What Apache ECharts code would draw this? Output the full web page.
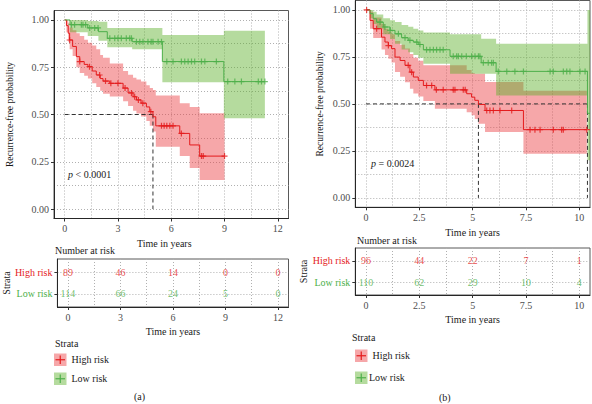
<!DOCTYPE html>
<html><head><meta charset="utf-8">
<script src="https://cdn.jsdelivr.net/npm/echarts@6/dist/echarts.min.js"></script>
<style>html,body{margin:0;padding:0;background:#fff}#c{width:592px;height:404px}</style>
</head><body><div id="c"></div>
<script>
// ---------- Panel (a) ----------
const aHighTime  = [0, 0.1, 0.2, 0.28, 0.45, 0.66, 0.85, 1.1, 1.31, 1.55, 1.78, 2.0, 2.16, 2.54, 3.29, 3.57, 3.85, 4.04, 4.3, 4.6, 4.79, 4.97, 5.13, 6.48, 7.04, 7.6];
const aHighSurv  = [1, 0.97, 0.93, 0.894, 0.86, 0.806, 0.78, 0.765, 0.753, 0.73, 0.709, 0.69, 0.677, 0.665, 0.64, 0.614, 0.594, 0.577, 0.56, 0.54, 0.515, 0.488, 0.44, 0.40, 0.339, 0.28];
const aHighLower = [1, 0.935, 0.885, 0.845, 0.81, 0.75, 0.72, 0.705, 0.69, 0.665, 0.645, 0.625, 0.61, 0.595, 0.57, 0.545, 0.52, 0.505, 0.49, 0.465, 0.44, 0.41, 0.33, 0.28, 0.217, 0.153];
const aHighUpper = [1, 1.0, 0.985, 0.96, 0.945, 0.93, 0.915, 0.895, 0.88, 0.865, 0.845, 0.815, 0.8, 0.77, 0.73, 0.71, 0.695, 0.685, 0.675, 0.655, 0.64, 0.63, 0.6, 0.56, 0.54, 0.507];
const aHighEnd = 9.0;
const aHighCensor = [0.28, 0.85, 1.4, 1.97, 2.3, 2.6, 3.0, 3.4, 3.76, 3.94, 4.15, 4.4, 4.85, 5.45, 5.6, 5.75, 5.92, 6.1, 6.57, 7.7, 7.8, 9.0];

const aLowTime  = [0, 0.3, 1.3, 1.9, 2.4, 3.8, 5.5, 8.96];
const aLowSurv  = [1, 0.975, 0.958, 0.938, 0.903, 0.885, 0.78, 0.674];
const aLowLower = [1, 0.935, 0.915, 0.89, 0.855, 0.845, 0.67, 0.48];
const aLowUpper = [1, 1.0, 0.995, 0.99, 0.958, 0.958, 0.92, 0.943];
const aLowEnd = 11.27;
const aLowCensor = [0.38, 0.56, 0.94, 1.03, 1.18, 1.41, 1.69, 1.88, 2.54, 2.82, 3.0, 3.19, 3.47, 3.66, 3.76, 4.04, 4.23, 4.41, 4.69, 4.87, 4.97, 5.26, 5.45, 5.75, 6.1, 6.57, 6.76, 6.95, 7.14, 7.32, 7.7, 7.89, 8.54, 9.18, 9.58, 9.95, 10.9, 11.08, 11.27];

const aMedian = [4.97];
const aXTicks = [0, 3, 6, 9, 12];
const aXGrid  = [0, 1.5, 3, 4.5, 6, 7.5, 9, 10.5, 12];
const aRiskTime = [0, 3, 6, 9, 12];
const aRiskHigh = [89, 46, 14, 0, 0];
const aRiskLow  = [114, 66, 24, 5, 0];
const aPText = '{i|p} < 0.0001';

// ---------- Panel (b) ----------
const bHighTime  = [0, 0.19, 0.34, 0.73, 0.89, 1.05, 1.2, 1.36, 1.6, 1.83, 2.06, 2.22, 2.45, 2.69, 3.23, 4.72, 4.95, 5.1, 5.27, 5.58, 7.38];
const bHighSurv  = [1, 0.944, 0.9, 0.855, 0.829, 0.81, 0.794, 0.749, 0.731, 0.705, 0.669, 0.643, 0.625, 0.598, 0.575, 0.554, 0.536, 0.519, 0.497, 0.465, 0.363];
const bHighLower = [1, 0.9, 0.85, 0.79, 0.76, 0.74, 0.72, 0.67, 0.645, 0.615, 0.58, 0.555, 0.54, 0.515, 0.474, 0.455, 0.439, 0.42, 0.395, 0.35, 0.235];
const bHighUpper = [1, 0.99, 0.96, 0.925, 0.9, 0.885, 0.87, 0.835, 0.815, 0.795, 0.765, 0.745, 0.73, 0.705, 0.705, 0.68, 0.665, 0.66, 0.66, 0.616, 0.57];
const bHighEnd = 10.35;
const bHighCensor = [0.03, 0.5, 1.05, 1.98, 2.14, 2.84, 3.08, 3.3, 3.62, 4.09, 4.17, 4.56, 4.65, 5.66, 5.81, 5.97, 6.28, 6.83, 7.69, 7.92, 8.16, 8.78, 9.17, 9.25, 10.35];

const bLowTime  = [0, 0.19, 0.34, 0.5, 0.81, 1.13, 1.36, 1.67, 1.98, 2.22, 2.45, 2.69, 3.94, 5.4, 6.1, 10.38];
const bLowSurv  = [1, 0.98, 0.953, 0.935, 0.909, 0.891, 0.873, 0.852, 0.838, 0.829, 0.816, 0.788, 0.753, 0.719, 0.673, 0.45];
const bLowLower = [1, 0.955, 0.925, 0.9, 0.87, 0.845, 0.82, 0.79, 0.775, 0.76, 0.745, 0.714, 0.66, 0.66, 0.545, 0.2];
const bLowUpper = [1, 1.0, 0.99, 0.975, 0.955, 0.945, 0.935, 0.92, 0.91, 0.9, 0.89, 0.88, 0.87, 0.847, 0.82, 1.0];
const bLowEnd = 10.5;
const bLowCensor = [0.66, 0.89, 1.13, 1.52, 1.83, 2.06, 2.38, 2.53, 2.84, 3.0, 3.16, 3.31, 3.47, 3.62, 4.09, 4.25, 4.33, 4.49, 4.7, 4.95, 5.11, 5.27, 5.34, 5.5, 5.73, 5.89, 5.97, 6.2, 6.6, 6.98, 7.38, 8.63, 8.78, 9.25, 9.41, 9.56, 10.03, 10.27];

const bMedian = [5.27, 10.38];
const bXTicks = [0, 2.5, 5, 7.5, 10];
const bXGrid  = [0, 1.25, 2.5, 3.75, 5, 6.25, 7.5, 8.75, 10];
const bRiskTime = [0, 2.5, 5, 7.5, 10];
const bRiskHigh = [96, 44, 22, 7, 1];
const bRiskLow  = [110, 62, 29, 10, 4];
const bPText = '{i|p} = 0.0024';

// ---------- shared ----------
const yTicks = [0, 0.25, 0.5, 0.75, 1];
const yGrid  = [0, 0.125, 0.25, 0.375, 0.5, 0.625, 0.75, 0.875, 1];
const strataNames = ['High risk', 'Low risk'];

const FONT = '"Liberation Serif","DejaVu Serif",serif';
const RED = '#E41A1C', GREEN = '#4DAF4A';
const RED_BAND = 'rgba(235,60,65,0.45)', GREEN_BAND = 'rgba(90,175,40,0.45)';
const TXT = '#1a1a1a', TICK = '#4d4d4d';
const PLUS = 'path://M4,0H6V4H10V6H6V10H4V6H0V4H4Z';

function stepData(times, vals, end) {
  const d = times.map((t, i) => [t, vals[i]]);
  d.push([end, vals[vals.length - 1]]);
  return d;
}
function survAt(times, surv, t) {
  let v = surv[0];
  for (let i = 0; i < times.length; i++) if (times[i] <= t) v = surv[i];
  return v;
}

function xAxesFor(grid, min, max, major, minor, name, nameGap, namePad) {
  return [{
    type: 'value', gridIndex: grid, min: min, max: max, position: 'bottom',
    name: name, nameLocation: 'middle', nameGap: nameGap,
    nameTextStyle: {fontFamily: FONT, fontSize: 10, color: TXT, padding: namePad || 0},
    axisLine: {show: true, onZero: false, lineStyle: {color: '#262626', width: 1}},
    axisTick: {show: true, customValues: major, length: 3, lineStyle: {color: '#333'}},
    axisLabel: {customValues: major, formatter: v => String(v), color: TICK, fontFamily: FONT, fontSize: 10, margin: 5},
    splitLine: {show: false}
  }, {
    type: 'value', gridIndex: grid, min: min, max: max, position: 'top',
    axisLine: {show: false}, axisTick: {show: false, customValues: minor},
    axisLabel: {show: false, customValues: minor},
    splitLine: {show: true, lineStyle: {type: [1, 2], color: '#b0b0b0', width: 1}}
  }];
}
function kmYAxes(grid, nameGap) {
  return [{
    type: 'value', gridIndex: grid, min: -0.05, max: 1.05, position: 'left',
    name: 'Recurrence-free probability', nameLocation: 'middle', nameGap: nameGap,
    nameTextStyle: {fontFamily: FONT, fontSize: 9.5, color: TXT},
    axisLine: {show: true, onZero: false, lineStyle: {color: '#262626', width: 1}},
    axisTick: {show: true, customValues: yTicks, length: 3, lineStyle: {color: '#333'}},
    axisLabel: {customValues: yTicks, formatter: v => v.toFixed(2), color: TICK, fontFamily: FONT, fontSize: 10, margin: 5},
    splitLine: {show: false}
  }, {
    type: 'value', gridIndex: grid, min: -0.05, max: 1.05, position: 'right',
    axisLine: {show: false}, axisTick: {show: false, customValues: yGrid},
    axisLabel: {show: false, customValues: yGrid},
    splitLine: {show: true, lineStyle: {type: [1, 2], color: '#b0b0b0', width: 1}}
  }];
}
function riskYAxis(grid, nameGap) {
  return {
    type: 'value', gridIndex: grid, min: 0.4, max: 2.6, position: 'left',
    name: 'Strata', nameLocation: 'middle', nameGap: nameGap,
    nameTextStyle: {fontFamily: FONT, fontSize: 10, color: TXT},
    axisLine: {show: true, onZero: false, lineStyle: {color: '#262626', width: 1}},
    axisTick: {show: true, customValues: [1, 2], length: 3, lineStyle: {color: '#333'}},
    axisLabel: {
      customValues: [1, 2], margin: 5,
      formatter: v => v === 2 ? '{h|' + strataNames[0] + '}' : '{l|' + strataNames[1] + '}',
      rich: {h: {color: RED, fontFamily: FONT, fontSize: 10}, l: {color: GREEN, fontFamily: FONT, fontSize: 10}}
    },
    splitLine: {show: true, lineStyle: {type: [1, 2], color: '#b0b0b0', width: 1}}
  };
}

// confidence band: one stepped polygon through the axis scales
function bandSeries(times, lower, upper, end, color, xi, yi) {
  const rows = times.map((t, i) => [t, lower[i], upper[i]]);
  return {
    type: 'custom', xAxisIndex: xi, yAxisIndex: yi, z: 1, silent: true,
    data: rows, encode: {x: 0, y: [1, 2]},
    renderItem: (params, api) => {
      if (params.dataIndex !== 0) return null;
      const n = rows.length, pts = [];
      const nextT = i => (i + 1 < n ? rows[i + 1][0] : end);
      for (let i = 0; i < n; i++) {
        pts.push(api.coord([rows[i][0], rows[i][2]]));
        pts.push(api.coord([nextT(i), rows[i][2]]));
      }
      for (let i = n - 1; i >= 0; i--) {
        pts.push(api.coord([nextT(i), rows[i][1]]));
        pts.push(api.coord([rows[i][0], rows[i][1]]));
      }
      return {type: 'polygon', shape: {points: pts}, style: {fill: color}};
    }
  };
}
function curveSeries(times, surv, end, cens, color, xi, yi) {
  return [
    {type: 'line', xAxisIndex: xi, yAxisIndex: yi, step: 'end', z: 3, silent: true,
     data: stepData(times, surv, end), symbol: 'none', lineStyle: {color: color, width: 1}},
    {type: 'scatter', xAxisIndex: xi, yAxisIndex: yi, z: 4, silent: true,
     data: cens.map(t => [t, survAt(times, surv, t)]), symbol: PLUS, symbolSize: 6,
     itemStyle: {color: color}}
  ];
}
function medianSeries(medians, xi, yi) {
  const ls = {color: '#333', width: 1, type: [4, 3]};
  const out = [{type: 'line', xAxisIndex: xi, yAxisIndex: yi, z: 3, silent: true, symbol: 'none',
    data: [[0, 0.5], [Math.max.apply(null, medians), 0.5]], lineStyle: ls}];
  medians.forEach(m => out.push({type: 'line', xAxisIndex: xi, yAxisIndex: yi, z: 3, silent: true,
    symbol: 'none', data: [[m, 0.5], [m, 0]], lineStyle: ls}));
  return out;
}
function riskSeries(times, counts, row, color, xi, yi) {
  return {type: 'scatter', xAxisIndex: xi, yAxisIndex: yi, silent: true, symbolSize: 0,
    data: times.map((t, i) => [t, row, counts[i]]),
    label: {show: true, position: 'inside', formatter: p => String(p.value[2]), color: color, fontFamily: FONT, fontSize: 10}};
}

const gridStyle = {show: true, borderColor: '#595959', borderWidth: 1, containLabel: false};
const titleStyle = {fontFamily: FONT, fontSize: 10, fontWeight: 'normal', color: TXT};
const pStyle = Object.assign({rich: {i: {fontStyle: 'italic', fontFamily: FONT, fontSize: 10, color: TXT}}}, titleStyle);
const option = {
  animation: false,
  backgroundColor: '#fff',
  grid: [
    Object.assign({left: 54, top: 10.5, width: 234.5, height: 208}, gridStyle),
    Object.assign({left: 355.3, top: 0.5, width: 234.7, height: 206.8}, gridStyle),
    Object.assign({left: 54, top: 259, width: 234.5, height: 48}, gridStyle),
    Object.assign({left: 355.3, top: 248, width: 234.7, height: 47}, gridStyle)
  ],
  xAxis: [].concat(
    xAxesFor(0, -0.6, 12.6, aXTicks, aXGrid, 'Time in years', 13, [0, 14, 0, 0]),
    xAxesFor(1, -0.5, 10.5, bXTicks, bXGrid, 'Time in years', 20),
    xAxesFor(2, -0.6, 12.6, aXTicks, aXGrid, 'Time in years', 19),
    xAxesFor(3, -0.5, 10.5, bXTicks, bXGrid, 'Time in years', 19)
  ),
  yAxis: [].concat(
    kmYAxes(0, 39),
    kmYAxes(1, 30),
    [riskYAxis(2, 44), riskYAxis(3, 42)]
  ),
  title: [
    {text: 'Number at risk', left: 55, top: 245, padding: 0, textStyle: titleStyle},
    {text: 'Number at risk', left: 357, top: 235, padding: 0, textStyle: titleStyle},
    {text: aPText, left: 68, top: 169, padding: 0, textStyle: pStyle},
    {text: bPText, left: 371, top: 158, padding: 0, textStyle: pStyle},
    {text: 'Strata', left: 55, top: 338, padding: 0, textStyle: titleStyle},
    {text: 'Strata', left: 352, top: 332, padding: 0, textStyle: titleStyle},
    {text: '(a)', left: 134, top: 391, padding: 0, textStyle: titleStyle},
    {text: '(b)', left: 439, top: 392, padding: 0, textStyle: titleStyle}
  ],
  graphic: [],
  series: [].concat(
    [bandSeries(aHighTime, aHighLower, aHighUpper, aHighEnd, RED_BAND, 0, 0),
     bandSeries(aLowTime, aLowLower, aLowUpper, aLowEnd, GREEN_BAND, 0, 0),
     bandSeries(bHighTime, bHighLower, bHighUpper, bHighEnd, RED_BAND, 2, 2),
     bandSeries(bLowTime, bLowLower, bLowUpper, bLowEnd, GREEN_BAND, 2, 2)],
    medianSeries(aMedian, 0, 0),
    medianSeries(bMedian, 2, 2),
    curveSeries(aHighTime, aHighSurv, aHighEnd, aHighCensor, RED, 0, 0),
    curveSeries(aLowTime, aLowSurv, aLowEnd, aLowCensor, GREEN, 0, 0),
    curveSeries(bHighTime, bHighSurv, bHighEnd, bHighCensor, RED, 2, 2),
    curveSeries(bLowTime, bLowSurv, bLowEnd, bLowCensor, GREEN, 2, 2),
    [riskSeries(aRiskTime, aRiskHigh, 2, RED, 4, 4), riskSeries(aRiskTime, aRiskLow, 1, GREEN, 4, 4),
     riskSeries(bRiskTime, bRiskHigh, 2, RED, 6, 5), riskSeries(bRiskTime, bRiskLow, 1, GREEN, 6, 5)]
  )
};

// legend keys (swatch + cross)
function legendKey(x, y, size, band, line, label, tx) {
  const c = size / 2;
  return {type: 'group', x: x, y: y, silent: true, children: [
    {type: 'rect', shape: {x: 0, y: 0, width: size, height: size}, style: {fill: band}},
    {type: 'line', shape: {x1: 1.5, y1: c, x2: size - 1.5, y2: c}, style: {stroke: line, lineWidth: 1.2}},
    {type: 'line', shape: {x1: c, y1: 2, x2: c, y2: size - 2}, style: {stroke: line, lineWidth: 1.2}},
    {type: 'text', x: tx, y: c, style: {text: label, fontFamily: FONT, fontSize: 10, fill: TXT, verticalAlign: 'middle'}}
  ]};
}
option.graphic = [
  legendKey(54, 353.5, 12.5, RED_BAND, RED, strataNames[0], 17.5),
  legendKey(54, 372.5, 12.5, GREEN_BAND, GREEN, strataNames[1], 17.5),
  legendKey(355, 349.5, 12.5, RED_BAND, RED, strataNames[0], 17.5),
  legendKey(355, 371.5, 12.5, GREEN_BAND, GREEN, strataNames[1], 14)
];

const chart = echarts.init(document.getElementById('c'), null, {renderer: 'svg'});
chart.setOption(option);
</script></body></html>
